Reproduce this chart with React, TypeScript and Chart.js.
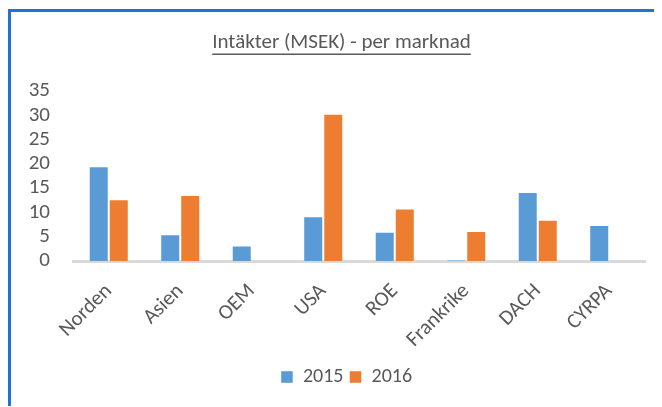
import React, { useEffect, useRef } from "react";
import { Chart, registerables } from "chart.js";

Chart.register(...registerables);

const categories = ["Norden", "Asien", "OEM", "USA", "ROE", "Frankrike", "DACH", "CYRPA"];
const series2015 = [19.5, 5.5, 3.2, 9.2, 6.0, 0.2, 14.2, 7.4];
const series2016 = [12.7, 13.6, null, 30.3, 10.8, 6.2, 8.5, null];
const seriesLabels = ["2015", "2016"];
const yTicks = { min: 0, max: 35, step: 5 };
const titleText = "Intäkter (MSEK) - per marknad";

const FONT = "Carlito, Calibri, Lato, sans-serif";
const TEXT = "#595959";

const shiftPlugin = {
  id: "shiftBlocks",
  afterLayout(chart: any) {
    if (chart.legend) {
      chart.legend.left += 10;
      chart.legend.right += 10;
    }
    if (chart.titleBlock) {
      chart.titleBlock.left += 5;
      chart.titleBlock.right += 5;
    }
  },
};

const underlinePlugin = {
  id: "underlineTitle",
  afterDraw(chart: any) {
    const tb = chart.titleBlock;
    if (!tb) return;
    const ctx = chart.ctx;
    const font = tb.options.font;
    ctx.save();
    ctx.font = `${font.size}px ${FONT}`;
    const w = ctx.measureText(titleText).width;
    const cx = (tb.left + tb.right) / 2;
    const pad = tb.options.padding;
    const top = tb.top + (typeof pad === "object" ? pad.top : pad);
    const y = top + (font.size * 1.2) / 2 + font.size * 0.53;
    ctx.strokeStyle = TEXT;
    ctx.lineWidth = 1.5;
    ctx.beginPath();
    ctx.moveTo(cx - w / 2, y);
    ctx.lineTo(cx + w / 2, y);
    ctx.stroke();
    ctx.restore();
  },
};

export default function App() {
  const ref = useRef<HTMLCanvasElement>(null);

  useEffect(() => {
    document.documentElement.style.overflow = "hidden";
    document.body.style.overflow = "hidden";
    const chart = new Chart(ref.current!, {
      type: "bar",
      data: {
        labels: categories,
        datasets: [
          {
            label: seriesLabels[0],
            data: series2015,
            backgroundColor: "#5b9bd5",
            borderColor: "rgba(255,255,255,0.45)",
            borderWidth: 1,
          },
          {
            label: seriesLabels[1],
            data: series2016 as any,
            backgroundColor: "#ed7d31",
            borderColor: "rgba(255,255,255,0.45)",
            borderWidth: 1,
          },
        ],
      },
      options: {
        animation: false,
        responsive: true,
        maintainAspectRatio: false,
        layout: { padding: { left: 17, right: 17, top: 0, bottom: 10 } },
        datasets: { bar: { categoryPercentage: 0.56, barPercentage: 1 } },
        plugins: {
          title: {
            display: true,
            text: titleText,
            color: TEXT,
            font: { family: FONT, size: 21, weight: "normal" },
            padding: { top: 18.4, bottom: 35.4 },
          },
          legend: {
            position: "bottom",
            labels: {
              color: TEXT,
              font: { family: FONT, size: 20 },
              boxWidth: 12,
              boxHeight: 12,
              padding: 6,
            },
          },
          tooltip: { enabled: false },
        },
        scales: {
          x: {
            grid: { display: false, drawTicks: false },
            border: { display: true, color: "#d9d9d9", width: 3 },
            ticks: {
              color: TEXT,
              font: { family: FONT, size: 21 },
              minRotation: 45,
              maxRotation: 45,
              autoSkip: false,
              padding: 18,
            },
            afterFit(scale: any) {
              scale.height = 100;
            },
          },
          y: {
            min: yTicks.min,
            max: yTicks.max,
            grid: { display: false, drawTicks: false },
            border: { display: false },
            ticks: {
              stepSize: yTicks.step,
              autoSkip: false,
              color: TEXT,
              font: { family: FONT, size: 21 },
              padding: 23,
            },
            afterFit(scale: any) {
              scale.width = 45;
            },
          },
        },
      },
      plugins: [shiftPlugin, underlinePlugin],
    });
    return () => chart.destroy();
  }, []);

  return (
    <div
      style={{
        position: "relative",
        top: 1,
        width: 654,
        height: 398,
        boxSizing: "border-box",
        borderLeft: "3px solid #1e73d6",
        borderTop: "3px solid #1e73d6",
        background: "#fff",
      }}
    >
      <div style={{ position: "relative", width: 651, height: 395 }}>
        <canvas ref={ref} />
      </div>
    </div>
  );
}
